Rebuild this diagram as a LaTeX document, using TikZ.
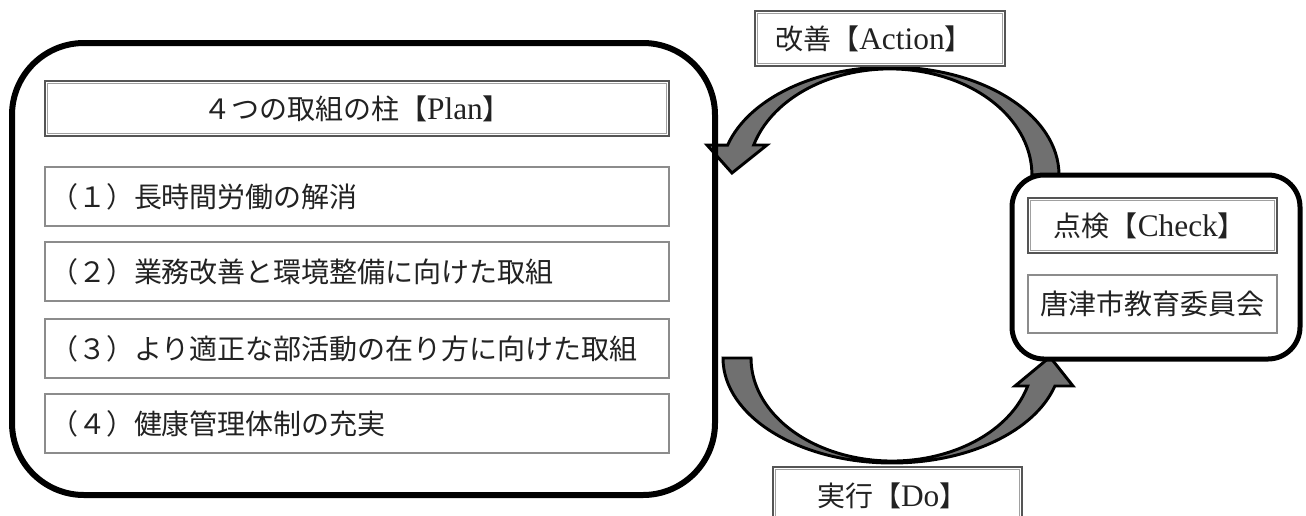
\documentclass[tikz,border=0pt]{standalone}
\usepackage{fontspec}
\setmainfont{Liberation Serif}[Scale=1.12]
\newfontfamily\cjk{Noto Sans CJK JP}
\newcommand\jtxt[1]{{\cjk #1}}
\definecolor{txt}{HTML}{222222}
\definecolor{tdark}{HTML}{555555}
\definecolor{tlight}{HTML}{A0A0A0}
\definecolor{iborder}{HTML}{8C8C8C}
\definecolor{arrowfill}{HTML}{707070}
\begin{document}
\begin{tikzpicture}[x=0.75pt,y=-0.75pt,
  every node/.style={text=txt, font=\fontsize{21}{25}\selectfont, inner sep=0pt, outer sep=0pt},
  bigbox/.style={draw=black, line width=4.5pt, rounded corners=54pt, anchor=north west},
  chkbox/.style={draw=black, line width=3.75pt, rounded corners=24pt, anchor=north west, fill=white},
  titlebox/.style={draw=tdark, line width=1.5pt, fill=white, anchor=north west, minimum height=41.25pt},
  innerline/.style={draw=tlight, line width=0.8pt},
  itembox/.style={draw=iborder, line width=0.9pt, fill=white, anchor=north west,
    minimum width=468pt, minimum height=44.25pt, text width=460.5pt, inner xsep=3.75pt, align=left},
  orgbox/.style={draw=iborder, line width=0.9pt, fill=white, anchor=north west,
    minimum width=186.75pt, minimum height=43.5pt},
  blockarrow/.style={draw=black, fill=arrowfill, line width=2.2pt, line join=miter, miter limit=4}
]
\fill[white] (0,0) rectangle (1306,515);
\useasboundingbox (0,0) rectangle (1306,515);
\clip (0,0) rectangle (1306,515);

% Action arrow (Check -> Plan)
\draw[blockarrow] (1059,175) arc[start angle=0, end angle=-163.9, x radius=169, y radius=108]
  -- (707,145) -- (732,173) -- (767,145) -- (753.7,145)
  arc[start angle=-163.6, end angle=0, x radius=142, y radius=106] -- cycle;

% Do arrow (Plan -> Check)
\draw[blockarrow] (723,358) arc[start angle=180, end angle=15.47, x radius=169, y radius=105]
  -- (1073,386) -- (1050,357) -- (1015,386) -- (1027.7,386)
  arc[start angle=15.77, end angle=180, x radius=141, y radius=103] -- cycle;

% Plan container
\node[bigbox, minimum width=527.25pt, minimum height=339pt] (plan) at (12,43) {};
\node[titlebox, minimum width=468pt] (plantitle) at (45,81)
  {\jtxt{４つの取組の柱【}Plan\jtxt{】}};
\node[itembox] (item1) at (45,167) {\jtxt{（１）長時間労働の解消}};
\node[itembox] (item2) at (45,242) {\jtxt{（２）業務改善と環境整備に向けた取組}};
\node[itembox] (item3) at (45,319) {\jtxt{（３）より適正な部活動の在り方に向けた取組}};
\node[itembox] (item4) at (45,394) {\jtxt{（４）健康管理体制の充実}};

% Check container
\node[chkbox, minimum width=216pt, minimum height=138pt] (check) at (1012,175) {};
\node[titlebox, minimum width=186.75pt] (checktitle) at (1028,198)
  {\jtxt{点検【}Check\jtxt{】}\hspace*{4pt}};
\node[orgbox] (org) at (1028,275) {\jtxt{唐津市教育委員会}};

% Action and Do labels
\node[titlebox, minimum width=187.5pt] (action) at (755,11)
  {\jtxt{改善【}Action\jtxt{】}\hspace*{9pt}};
\node[titlebox, minimum width=186.75pt, minimum height=43.5pt] (do) at (773,467)
  {\jtxt{実行【}Do\jtxt{】}\hspace*{8pt}};

\foreach \b in {plantitle,checktitle,action,do}
  \draw[innerline] ([shift={(2.6,2.6)}]\b.north west) rectangle ([shift={(-2.6,-2.6)}]\b.south east);
\end{tikzpicture}
\end{document}
